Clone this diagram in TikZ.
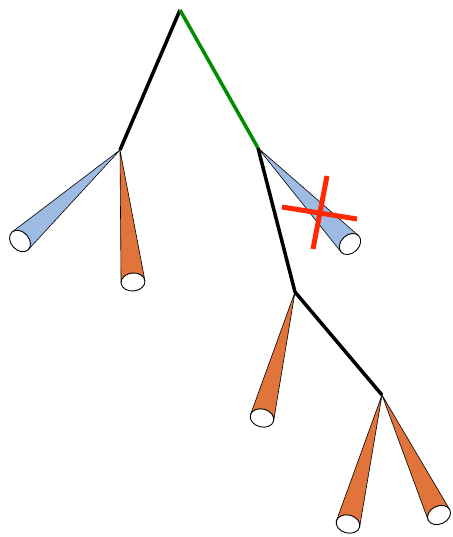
\documentclass[tikz,border=0pt]{standalone}
\usepackage{xcolor}
\usepackage{tikz}
\usetikzlibrary{calc}

\definecolor{coneblue}{RGB}{157,187,227}
\definecolor{coneorange}{RGB}{224,116,58}
\definecolor{pathgreen}{RGB}{0,140,0}
\definecolor{cutred}{RGB}{255,40,0}

\tikzset{
  branch/.style={line width=3.5pt, black},
  live/.style={line width=3.5pt, pathgreen},
  rim/.style={draw=black, line width=0.9pt, fill=white},
  side/.style={draw=black, line width=0.6pt},
  cut/.style={line width=5pt, cutred},
}

\def\RA{12pt}  % cone mouth half width
\def\RB{9pt}   % cone mouth depth

% cone from apex #1 to mouth #2, filled with #3
\newcommand\cone[3]{%
  \fill[#3] (#1) -- ($(#2)!\RA!90:(#1)$) -- ($(#2)!\RA!-90:(#1)$) -- cycle;
  \draw[side] ($(#2)!\RA!90:(#1)$) -- (#1) -- ($(#2)!\RA!-90:(#1)$);
  \draw[rim] let \p1=($(#1)-(#2)$), \n1={atan2(\y1,\x1)} in
    (#2) ellipse [x radius=\RB, y radius=\RA, rotate=\n1];
}

\begin{document}
\begin{tikzpicture}[x=1pt, y=-1pt]

\useasboundingbox (0,0) rectangle (452,537);

% ---- Tree vertices -----------------------------------------------------------
\coordinate (root) at (180,10);
\coordinate (left) at (120,150);
\coordinate (right) at (258,148);
\coordinate (mid) at (295,292);
\coordinate (low) at (382,395);

% ---- Cone mouths -------------------------------------------------------------
\coordinate (leftblue) at (20,241);
\coordinate (leftorange) at (133,282);
\coordinate (rightblue) at (350,244);
\coordinate (midorange) at (262,418);
\coordinate (lowa) at (348,524);
\coordinate (lowb) at (439,515);

% ---- Cones -------------------------------------------------------------------
\cone{left}{leftblue}{coneblue}
\cone{left}{leftorange}{coneorange}
\cone{right}{rightblue}{coneblue}
\cone{mid}{midorange}{coneorange}
\cone{low}{lowa}{coneorange}
\cone{low}{lowb}{coneorange}

% ---- Branches ----------------------------------------------------------------
\draw[branch] (root) -- (left);
\draw[live] (root) -- (right);
\draw[branch] (right) -- (mid) -- (low);

% ---- Pruned cone -------------------------------------------------------------
\coordinate (cutA) at (282,207);
\coordinate (cutB) at (357,219);
\coordinate (cutC) at (327,176);
\coordinate (cutD) at (313,249);
\draw[cut] (cutA) -- (cutB);
\draw[cut] (cutC) -- (cutD);

\end{tikzpicture}
\end{document}
